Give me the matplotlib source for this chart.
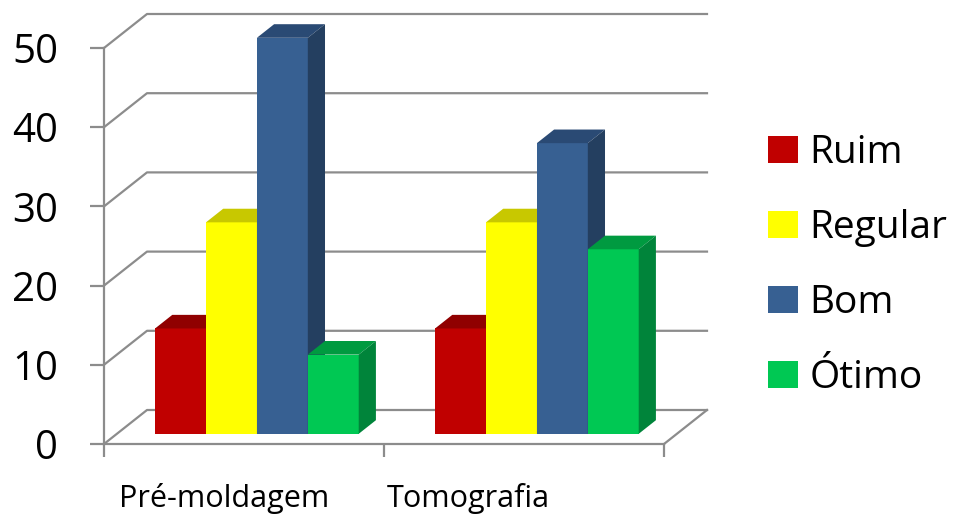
import matplotlib.pyplot as plt
from matplotlib.patches import Polygon, Patch
import numpy as np

plt.rcParams['font.family'] = ['Open Sans', 'DejaVu Sans']

categories = ['Pré-moldagem', 'Tomografia']
series = ['Ruim', 'Regular', 'Bom', 'Ótimo']
ruim = [13.3, 13.3]
regular = [26.7, 26.7]
bom = [50.0, 36.7]
otimo = [10.0, 23.3]
y_ticks = [0, 10, 20, 30, 40, 50]

front_colors = ['#C00000', '#FFFF00', '#376092', '#00C853']
top_colors = ['#900000', '#C8C800', '#2A4A74', '#009A40']
side_colors = ['#7A0000', '#B0B000', '#243F60', '#00843A']
grid_color = '#8C8C8C'

W, H = 959, 519
fig = plt.figure(figsize=(W / 100, H / 100), dpi=100)
ax = fig.add_axes([104 / W, (H - 444) / H, 560 / W, 396 / H])
ax.set_xlim(0, len(categories))
ax.set_ylim(0, y_ticks[-1])

# oblique depth of the floor/walls, converted to data units
px_per_x = 560 / len(categories)
px_per_y = 396 / y_ticks[-1]
DX, DY = 43 / px_per_x, 34 / px_per_y
F0, F1 = 0.3, 0.7          # bars sit between these depth fractions

# back wall gridlines with their diagonal to the front axis
for v in y_ticks:
    ax.plot([0, DX, len(categories) + DX], [v, v + DY, v + DY],
            color=grid_color, lw=1.6, clip_on=False, zorder=0)
ax.plot([len(categories), len(categories) + DX], [0, DY],
        color=grid_color, lw=1.6, clip_on=False, zorder=0)

# 3D-looking columns: front via ax.bar, top and right side as polygons
w = 1 / 5.5
ddx, ddy = (F1 - F0) * DX, (F1 - F0) * DY
base = F0 * DY
values = [ruim, regular, bom, otimo]
for i, vals in enumerate(values):
    xs = np.arange(len(categories)) + 0.75 * w + i * w + F0 * DX
    z = 2 + i
    ax.bar(xs, vals, width=w, bottom=base, align='edge',
           color=front_colors[i], linewidth=0, zorder=z, clip_on=False)
    for x, v in zip(xs, vals):
        top = base + v
        ax.add_patch(Polygon([(x, top), (x + w, top), (x + w + ddx, top + ddy),
                              (x + ddx, top + ddy)], closed=True,
                             facecolor=top_colors[i], linewidth=0,
                             zorder=z, clip_on=False))
        ax.add_patch(Polygon([(x + w, base), (x + w, top), (x + w + ddx, top + ddy),
                              (x + w + ddx, base + ddy)], closed=True,
                             facecolor=side_colors[i], linewidth=0,
                             zorder=z, clip_on=False))

# axes styling
for s in ['top', 'right']:
    ax.spines[s].set_visible(False)
for s in ['left', 'bottom']:
    ax.spines[s].set_color(grid_color)
    ax.spines[s].set_linewidth(1.6)

ax.set_yticks(y_ticks)
ax.tick_params(axis='y', length=10, width=1.6, color=grid_color,
               pad=23, labelsize=29, labelcolor='black')
ax.set_xticks(range(len(categories) + 1), labels=[''] * (len(categories) + 1))
ax.tick_params(axis='x', which='major', length=9, width=1.6, color=grid_color)
ax.set_xticks([0.43, 1.30], labels=categories, minor=True)
ax.tick_params(axis='x', which='minor', length=0, pad=28, labelsize=22)

handles = [Patch(facecolor=c, label=s) for c, s in zip(front_colors, series)]
ax.legend(handles=handles, loc='upper left', bbox_to_anchor=(768 / W, 1 - 134 / H),
          bbox_transform=fig.transFigure, frameon=False, fontsize=28,
          handlelength=0.76, handleheight=0.7, handletextpad=0.3,
          labelspacing=0.95, borderpad=0, borderaxespad=0)

fig.savefig('out.png', dpi=100, facecolor='white')
